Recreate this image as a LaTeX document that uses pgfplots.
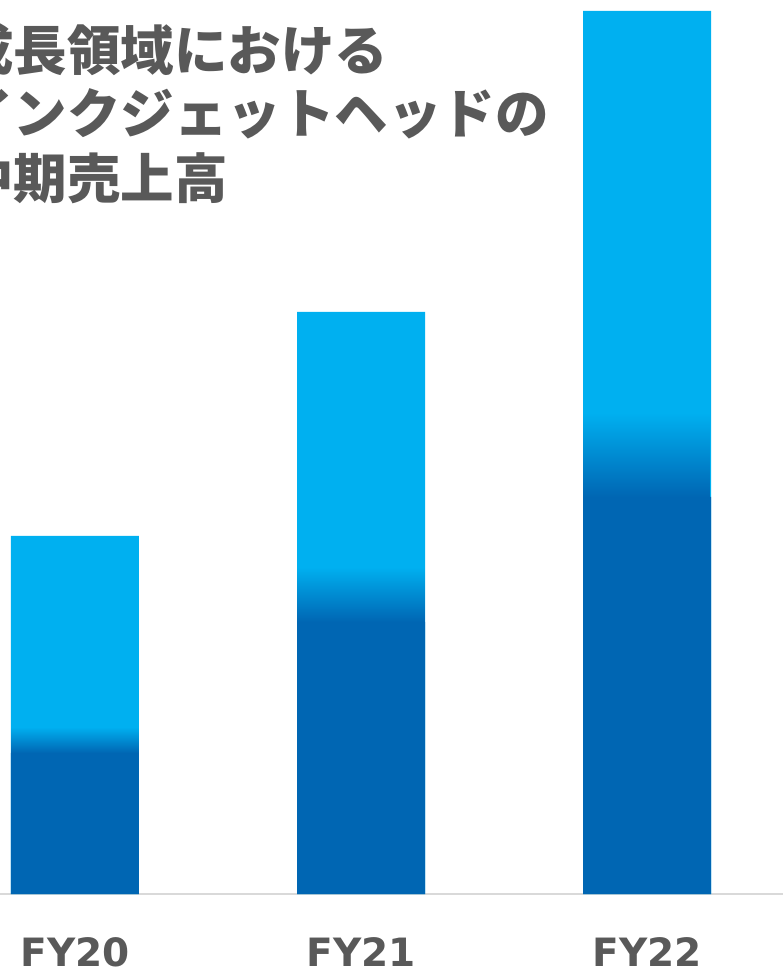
\documentclass[border=0pt]{standalone}
\usepackage{fontspec}
\usepackage{pgfplots}
\pgfplotsset{compat=1.18}
\newfontfamily\cjk{Noto Sans CJK JP}
\newfontfamily\dejavu{DejaVu Sans}
\definecolor{dblue}{HTML}{0066B3}
\definecolor{lblue}{HTML}{00B0F0}
\definecolor{tgray}{HTML}{595959}
\definecolor{lgray}{HTML}{D9D9D9}
\begin{document}
\begin{tikzpicture}
\useasboundingbox (0,-78pt) rectangle (783pt,894pt);
\clip (0,-78pt) rectangle (783pt,894pt);
\begin{axis}[
  at={(0,0)}, anchor=south west,
  scale only axis, width=783pt, height=894pt,
  xmin=-0.2622, xmax=2.4755, ymin=0, ymax=894,
  bar width=128pt,
  axis y line=none, axis x line=bottom,
  x axis line style={-, draw=lgray, line width=2pt},
  ytick=\empty,
  xtick={0,1,2}, xticklabels={FY20,FY21,FY22},
  major tick length=0pt,
  xticklabel style={font=\dejavu\bfseries\fontsize{39}{40}\selectfont, text=tgray, anchor=base, yshift=-72pt, inner sep=0pt, text depth=0pt},
  colormap={blues}{color=(dblue) color=(lblue)},
  point meta min=0, point meta max=1,
  clip=false,
]
% total height (light part on top)
\addplot[ybar, bar shift=0pt, draw=none, fill=lblue] coordinates {(0,358) (1,582) (2,883)};
% dark solid part
\addplot[ybar, bar shift=0pt, draw=none, fill=dblue] coordinates {(0,141) (1,272) (2,397)};
% gradient transition between dark and light parts
\addplot[patch, patch type=rectangle, shader=interp, point meta=explicit]
  table[meta=c] {
x y c
-0.2236 141 0
0.2190 141 0
0.2190 167 1
-0.2236 167 1
0.7764 272 0
1.2190 272 0
1.2190 327 1
0.7764 327 1
1.7764 397 0
2.2190 397 0
2.2190 481 1
1.7764 481 1
};
\end{axis}
\begin{scope}[every node/.style={anchor=base west, inner sep=0pt, text=tgray, font=\cjk\bfseries\fontsize{53.5}{60}\selectfont}]
\node at (-40pt,823pt) {成長領域における};
\node at (-40pt,760pt) {インクジェットヘッドの};
\node at (-40pt,695pt) {中期売上高};
\end{scope}
\end{tikzpicture}
\end{document}
